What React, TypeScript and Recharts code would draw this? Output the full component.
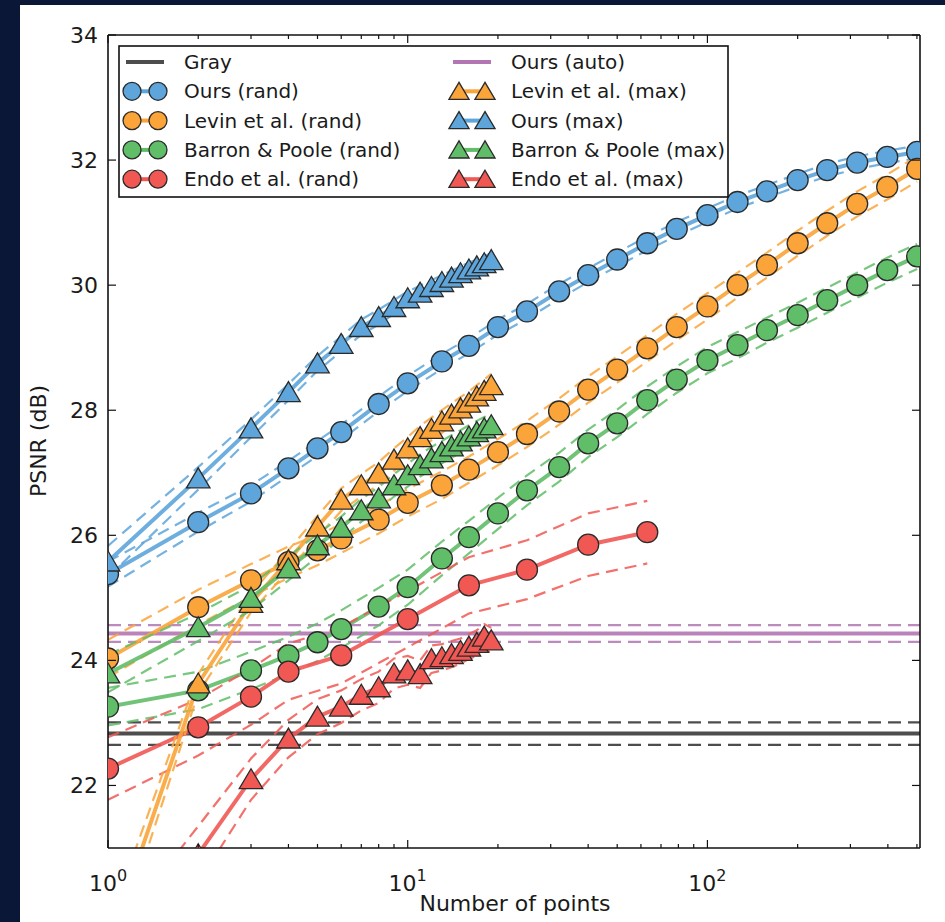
import React from 'react';
import { LineChart, Line, XAxis, YAxis, ReferenceLine } from 'recharts';

// x positions (number of points)
const randX = [1, 2, 3, 4, 5, 6, 8, 10, 13, 16, 20, 25, 32, 40, 50, 63, 79, 100, 126, 158, 200, 251, 316, 398, 501];
const endoRandX = [1, 2, 3, 4, 6, 10, 16, 25, 40, 63];
const maxX = [1, 2, 3, 4, 5, 6, 7, 8, 9, 10, 11, 12, 13, 14, 15, 16, 17, 18, 19];

// mean PSNR + spread (half width of the dashed band)
const oursRand = [25.38, 26.21, 26.67, 27.07, 27.39, 27.65, 28.1, 28.43, 28.78, 29.03, 29.33, 29.58, 29.9, 30.16, 30.41, 30.67, 30.9, 31.12, 31.33, 31.5, 31.68, 31.84, 31.96, 32.05, 32.13];
const oursRandSd = [0.2, 0.15, 0.13, 0.12, 0.12, 0.12, 0.12, 0.12, 0.12, 0.12, 0.12, 0.12, 0.12, 0.11, 0.11, 0.11, 0.11, 0.11, 0.1, 0.1, 0.1, 0.1, 0.1, 0.1, 0.1];
const levinRand = [24.03, 24.85, 25.28, 25.57, 25.76, 25.95, 26.25, 26.52, 26.8, 27.05, 27.33, 27.62, 27.98, 28.33, 28.65, 28.99, 29.33, 29.66, 30.0, 30.32, 30.67, 30.99, 31.3, 31.57, 31.86];
const levinRandSd = [0.3, 0.28, 0.26, 0.25, 0.24, 0.23, 0.22, 0.22, 0.22, 0.21, 0.21, 0.21, 0.21, 0.21, 0.21, 0.21, 0.21, 0.21, 0.2, 0.2, 0.2, 0.2, 0.2, 0.2, 0.2];
const barronRand = [23.26, 23.52, 23.84, 24.08, 24.29, 24.5, 24.86, 25.17, 25.63, 25.97, 26.35, 26.72, 27.09, 27.47, 27.79, 28.16, 28.49, 28.8, 29.04, 29.28, 29.52, 29.76, 30.0, 30.24, 30.46];
const barronRandSd = [0.3, 0.3, 0.3, 0.3, 0.3, 0.3, 0.3, 0.28, 0.27, 0.26, 0.25, 0.24, 0.23, 0.22, 0.22, 0.22, 0.21, 0.21, 0.21, 0.2, 0.2, 0.2, 0.2, 0.2, 0.2];
const endoRand = [22.27, 22.93, 23.42, 23.82, 24.08, 24.66, 25.2, 25.45, 25.85, 26.05];
const endoRandSd = [0.5, 0.45, 0.45, 0.45, 0.45, 0.45, 0.45, 0.47, 0.5, 0.5];

const oursMax = [25.58, 26.91, 27.71, 28.29, 28.75, 29.06, 29.33, 29.49, 29.65, 29.79, 29.88, 29.97, 30.05, 30.12, 30.19, 30.25, 30.3, 30.35, 30.4];
const oursMaxSd = [0.25, 0.18, 0.14, 0.13, 0.12, 0.12, 0.12, 0.12, 0.11, 0.11, 0.11, 0.11, 0.11, 0.11, 0.11, 0.11, 0.11, 0.11, 0.11];
const levinMax = [19.4, 23.63, 24.92, 25.6, 26.14, 26.57, 26.8, 26.99, 27.21, 27.39, 27.57, 27.7, 27.82, 27.93, 28.03, 28.12, 28.22, 28.31, 28.4];
const levinMaxSd = [0.35, 0.15, 0.15, 0.16, 0.17, 0.18, 0.18, 0.18, 0.18, 0.18, 0.18, 0.18, 0.18, 0.18, 0.18, 0.18, 0.18, 0.18, 0.18];
const barronMax = [23.79, 24.53, 25.0, 25.47, 25.84, 26.12, 26.4, 26.59, 26.8, 26.96, 27.12, 27.23, 27.33, 27.42, 27.5, 27.58, 27.65, 27.71, 27.76];
const barronMaxSd = [0.3, 0.22, 0.2, 0.19, 0.18, 0.18, 0.18, 0.18, 0.18, 0.18, 0.18, 0.18, 0.18, 0.18, 0.18, 0.18, 0.18, 0.18, 0.18];
const endoMax = [19.0, 20.9, 22.1, 22.75, 23.1, 23.26, 23.45, 23.57, 23.79, 23.84, 23.78, 24.02, 24.05, 24.1, 24.15, 24.22, 24.28, 24.38, 24.32];
const endoMaxSd = [0.5, 0.45, 0.33, 0.3, 0.28, 0.26, 0.25, 0.25, 0.24, 0.23, 0.22, 0.22, 0.21, 0.21, 0.2, 0.2, 0.2, 0.2, 0.2];

const grayLevel = 22.83;
const graySd = 0.18;
const autoLevel = 24.43;
const autoSd = 0.135;

const xTicks = [1, 2, 3, 4, 5, 6, 7, 8, 9, 10, 20, 30, 40, 50, 60, 70, 80, 90, 100, 200, 300, 400, 500];
const yTicks = [22, 24, 26, 28, 30, 32, 34];

const C = {
  gray: '#4d4d4d',
  blue: '#5da5da',
  orange: '#faa43a',
  green: '#60bd68',
  red: '#f15854',
  purple: '#b276b2',
};

const FONT = '"DejaVu Sans", sans-serif';

const rows = (xs: number[], ys: number[], sd: number[]) =>
  xs.map((x, i) => ({ x, y: ys[i], hi: ys[i] + sd[i], lo: ys[i] - sd[i] }));

type Shape = 'circle' | 'triangle';
const curves: { name: string; color: string; shape: Shape; data: any[] }[] = [
  { name: 'Ours (rand)', color: C.blue, shape: 'circle', data: rows(randX, oursRand, oursRandSd) },
  { name: 'Levin et al. (rand)', color: C.orange, shape: 'circle', data: rows(randX, levinRand, levinRandSd) },
  { name: 'Barron & Poole (rand)', color: C.green, shape: 'circle', data: rows(randX, barronRand, barronRandSd) },
  { name: 'Endo et al. (rand)', color: C.red, shape: 'circle', data: rows(endoRandX, endoRand, endoRandSd) },
  { name: 'Levin et al. (max)', color: C.orange, shape: 'triangle', data: rows(maxX, levinMax, levinMaxSd) },
  { name: 'Ours (max)', color: C.blue, shape: 'triangle', data: rows(maxX, oursMax, oursMaxSd) },
  { name: 'Barron & Poole (max)', color: C.green, shape: 'triangle', data: rows(maxX, barronMax, barronMaxSd) },
  { name: 'Endo et al. (max)', color: C.red, shape: 'triangle', data: rows(maxX, endoMax, endoMaxSd) },
];

const legendLeft = [
  { name: 'Gray', color: C.gray, shape: 'line' },
  ...curves.slice(0, 4),
];
const legendRight = [
  { name: 'Ours (auto)', color: C.purple, shape: 'line' },
  ...curves.slice(4),
];

const Marker = ({ cx, cy, shape, color, s = 10.5 }: any) => {
  if (cx == null || cy == null) return null;
  if (shape === 'circle') {
    return <circle cx={cx} cy={cy} r={s} fill={color} stroke="#2a2a2a" strokeWidth={1.3} />;
  }
  const pts = `${cx},${cy - s} ${cx - s * 1.12},${cy + s * 0.9} ${cx + s * 1.12},${cy + s * 0.9}`;
  return <polygon points={pts} fill={color} stroke="#2a2a2a" strokeWidth={1.3} strokeLinejoin="miter" />;
};

const isMajor = (v: number) => Math.abs(Math.log10(v) - Math.round(Math.log10(v))) < 1e-9;

const BottomTick = ({ x, y, payload }: any) => {
  const v = payload.value;
  const major = isMajor(v);
  return (
    <g>
      <line x1={x} x2={x} y1={y} y2={y - (major ? 8 : 4)} stroke="#111" strokeWidth={1.2} />
      {major && (
        <text x={x} y={y + 43} textAnchor="middle" fontFamily={FONT} fontSize={22} fill="#1a1a1a">
          10
          <tspan dy={-10} fontSize={16}>{Math.round(Math.log10(v))}</tspan>
        </text>
      )}
    </g>
  );
};

const TopTick = ({ x, y, payload }: any) => {
  const major = isMajor(payload.value);
  return <line x1={x} x2={x} y1={y} y2={y + (major ? 8 : 4)} stroke="#111" strokeWidth={1.2} />;
};

const LeftTick = ({ x, y, payload }: any) => (
  <g>
    <line x1={x} x2={x + 8} y1={y} y2={y} stroke="#111" strokeWidth={1.2} />
    <text x={x - 10} y={y + 8} textAnchor="end" fontFamily={FONT} fontSize={22} fill="#1a1a1a">
      {payload.value}
    </text>
  </g>
);

const RightTick = ({ x, y }: any) => <line x1={x} x2={x - 8} y1={y} y2={y} stroke="#111" strokeWidth={1.2} />;

const LegendRow = ({ item, x, y }: any) => (
  <g>
    {item.shape === 'line' ? (
      <line x1={x - 2} x2={x + 36} y1={y} y2={y} stroke={item.color} strokeWidth={4} />
    ) : (
      <>
        <line x1={x + 4} x2={x + 30} y1={y} y2={y} stroke={item.color} strokeWidth={4} />
        <Marker cx={x + 4} cy={y} shape={item.shape} color={item.color} s={9} />
        <Marker cx={x + 30} cy={y} shape={item.shape} color={item.color} s={9} />
      </>
    )}
    <text x={x + 56} y={y + 7} fontFamily={FONT} fontSize={20} fill="#1a1a1a">
      {item.name}
    </text>
  </g>
);

const axisLine = { stroke: '#111', strokeWidth: 1.6 };

export default function App() {
  return (
    <div style={{ position: 'absolute', left: 0, top: 0, width: 945, height: 922, background: '#0a1736', overflow: 'hidden' }}>
      <div style={{ position: 'absolute', left: 20, top: 5, width: 925, height: 917, background: '#ffffff' }} />
      <div style={{ position: 'absolute', left: 0, top: 0 }}>
        <LineChart width={945} height={922} margin={{ top: 34, right: 24, bottom: 73, left: 107 }}>
          <XAxis
            dataKey="x"
            type="number"
            scale="log"
            domain={[1, 512]}
            allowDataOverflow
            ticks={xTicks}
            interval={0}
            height={1}
            tickSize={0}
            tickMargin={0}
            tick={<BottomTick />}
            axisLine={axisLine}
            tickLine={false}
          />
          <XAxis
            xAxisId="top"
            orientation="top"
            dataKey="x"
            type="number"
            scale="log"
            domain={[1, 512]}
            allowDataOverflow
            ticks={xTicks}
            interval={0}
            height={1}
            tickSize={0}
            tickMargin={0}
            tick={<TopTick />}
            axisLine={axisLine}
            tickLine={false}
          />
          <YAxis
            type="number"
            domain={[21, 34]}
            allowDataOverflow
            ticks={yTicks}
            interval={0}
            width={1}
            tickSize={0}
            tickMargin={0}
            tick={<LeftTick />}
            axisLine={axisLine}
            tickLine={false}
          />
          <YAxis
            yAxisId="right"
            orientation="right"
            type="number"
            domain={[21, 34]}
            allowDataOverflow
            ticks={yTicks}
            interval={0}
            width={1}
            tickSize={0}
            tickMargin={0}
            tick={<RightTick />}
            axisLine={axisLine}
            tickLine={false}
          />

          <ReferenceLine y={grayLevel + graySd} stroke={C.gray} strokeWidth={2.2} strokeDasharray="13 7" />
          <ReferenceLine y={grayLevel - graySd} stroke={C.gray} strokeWidth={2.2} strokeDasharray="13 7" />
          <ReferenceLine y={grayLevel} stroke={C.gray} strokeWidth={4} />
          <ReferenceLine y={autoLevel + autoSd} stroke={C.purple} strokeWidth={2.2} strokeDasharray="13 7" strokeOpacity={0.85} />
          <ReferenceLine y={autoLevel - autoSd} stroke={C.purple} strokeWidth={2.2} strokeDasharray="13 7" strokeOpacity={0.85} />
          <ReferenceLine y={autoLevel} stroke={C.purple} strokeWidth={4} strokeOpacity={0.9} />

          {curves.flatMap((c) => [
            <Line
              key={`${c.name}-lo`}
              data={c.data}
              dataKey="lo"
              type="linear"
              stroke={c.color}
              strokeWidth={2.2}
              strokeDasharray="12 7"
              strokeOpacity={0.85}
              dot={false}
              activeDot={false}
              isAnimationActive={false}
            />,
            <Line
              key={`${c.name}-hi`}
              data={c.data}
              dataKey="hi"
              type="linear"
              stroke={c.color}
              strokeWidth={2.2}
              strokeDasharray="12 7"
              strokeOpacity={0.85}
              dot={false}
              activeDot={false}
              isAnimationActive={false}
            />,
            <Line
              key={`${c.name}-mean`}
              data={c.data}
              dataKey="y"
              name={c.name}
              type="linear"
              stroke={c.color}
              strokeWidth={4}
              strokeOpacity={0.9}
              dot={(p: any) => (
                <Marker key={`${c.name}-dot-${p.index}`} cx={p.cx} cy={p.cy} shape={c.shape} color={c.color} />
              )}
              activeDot={false}
              isAnimationActive={false}
            />,
          ])}
        </LineChart>
      </div>
      <svg width={945} height={922} style={{ position: 'absolute', left: 0, top: 0, pointerEvents: 'none' }}>
        <rect x={119} y={46} width={609} height={151} fill="#fff" stroke="#111" strokeWidth={1.6} />
        {legendLeft.map((it, i) => (
          <LegendRow key={it.name} item={it} x={128} y={62 + i * 29.3} />
        ))}
        {legendRight.map((it, i) => (
          <LegendRow key={it.name} item={it} x={455} y={62 + i * 29.3} />
        ))}
        <text x={515} y={911} textAnchor="middle" fontFamily={FONT} fontSize={22} fill="#1a1a1a">
          Number of points
        </text>
        <text
          x={46}
          y={441}
          textAnchor="middle"
          fontFamily={FONT}
          fontSize={22}
          fill="#1a1a1a"
          transform="rotate(-90 46 441)"
        >
          PSNR (dB)
        </text>
      </svg>
    </div>
  );
}
